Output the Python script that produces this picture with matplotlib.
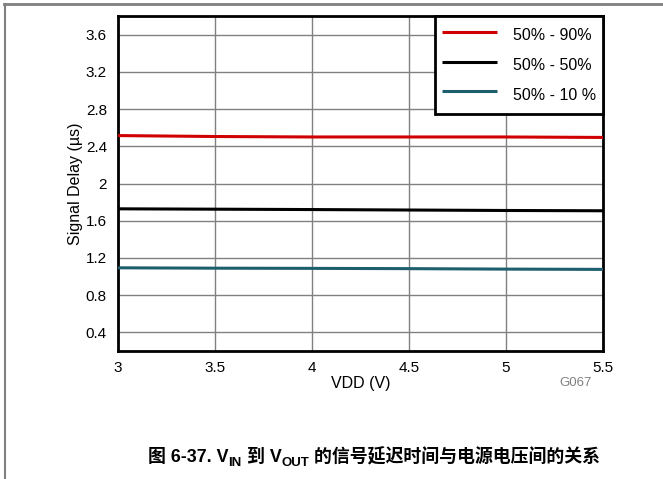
import matplotlib
matplotlib.use("Agg")
import matplotlib.pyplot as plt
from matplotlib.lines import Line2D

plt.rcParams['font.family'] = ['Liberation Sans', 'Noto Sans CJK SC', 'DejaVu Sans']

vdd = [3.0, 3.5, 4.0, 4.5, 5.0, 5.5]
delay_90 = [2.515, 2.505, 2.500, 2.500, 2.500, 2.495]
delay_50 = [1.728, 1.724, 1.720, 1.715, 1.710, 1.707]
delay_10 = [1.094, 1.090, 1.088, 1.085, 1.080, 1.077]
series_labels = ["50% - 90%", "50% - 50%", "50% - 10 %"]
series_colors = ["#D00000", "#000000", "#1E5F6E"]
xticks = [3, 3.5, 4, 4.5, 5, 5.5]
xtick_labels = ["3", "3.5", "4", "4.5", "5", "5.5"]
yticks = [0.4, 0.8, 1.2, 1.6, 2.0, 2.4, 2.8, 3.2, 3.6]
ytick_labels = ["0.4", "0.8", "1.2", "1.6", "2", "2.4", "2.8", "3.2", "3.6"]

W, H = 663, 479
fig = plt.figure(figsize=(W / 100, H / 100), dpi=100)
ax = fig.add_axes([118 / W, 1 - 351 / H, (603 - 118) / W, (351 - 16) / H])

for ys, lab, col in zip([delay_90, delay_50, delay_10], series_labels, series_colors):
    ax.plot(vdd, ys, color=col, lw=2.2, label=lab, zorder=3, solid_capstyle='butt')

ax.set_xlim(3, 5.5)
ax.set_ylim(0.2, 3.8)
ax.set_xticks(xticks)
ax.set_xticklabels(xtick_labels)
ax.set_yticks(yticks)
ax.set_yticklabels(ytick_labels)
ax.tick_params(length=0, labelsize=11)
ax.tick_params(axis='y', pad=8)
ax.tick_params(axis='x', pad=7)
ax.grid(True, color="#808080", lw=1.0)
for s in ax.spines.values():
    s.set_linewidth(2.0)
    s.set_color("black")

ax.set_xlabel("VDD (V)", fontsize=11.5, labelpad=1)
ax.set_ylabel("Signal Delay (µs)", fontsize=11.5, labelpad=2)

leg = ax.legend(loc="upper right", fontsize=11.5, frameon=True, fancybox=False,
                borderaxespad=0, handlelength=3.4, handletextpad=1.0,
                labelspacing=0.35, borderpad=0.45, handleheight=1.95)
leg.get_frame().set_edgecolor("black")
leg.get_frame().set_linewidth(2.0)
leg.get_frame().set_alpha(1)

fig.text(592 / W, 1 - 383 / H, "G067", fontsize=9.5, color="#808080", ha="right", va="center")

# outer panel frame (top and left border)
fig.add_artist(Line2D([4 / W, 1], [1 - 3.5 / H, 1 - 3.5 / H], color="#808080", lw=2, transform=fig.transFigure))
fig.add_artist(Line2D([4.5 / W, 4.5 / W], [0, 1 - 3.5 / H], color="#808080", lw=1.5, transform=fig.transFigure))

# caption with subscripts
renderer = fig.canvas.get_renderer()
fam = ['Liberation Sans', 'Noto Sans CJK SC', 'DejaVu Sans']
pieces = [("图 6-37. V", 12.9, 0), ("IN", 9.5, -4), (" 到 V", 12.9, 0), ("OUT", 9.5, -4),
          (" 的信号延迟时间与电源电压间的关系", 12.9, 0)]
y0 = 1 - 462 / H
texts = []
total = 0
for s, fs, dy in pieces:
    t = fig.text(0, y0 + dy / H, s, fontsize=fs, fontweight="bold", family=fam, va="baseline", ha="left")
    w = t.get_window_extent(renderer).width
    texts.append((t, w))
    total += w
x = 374 - total / 2
for t, w in texts:
    t.set_x(x / W)
    x += w

fig.savefig("out.png", dpi=100)
